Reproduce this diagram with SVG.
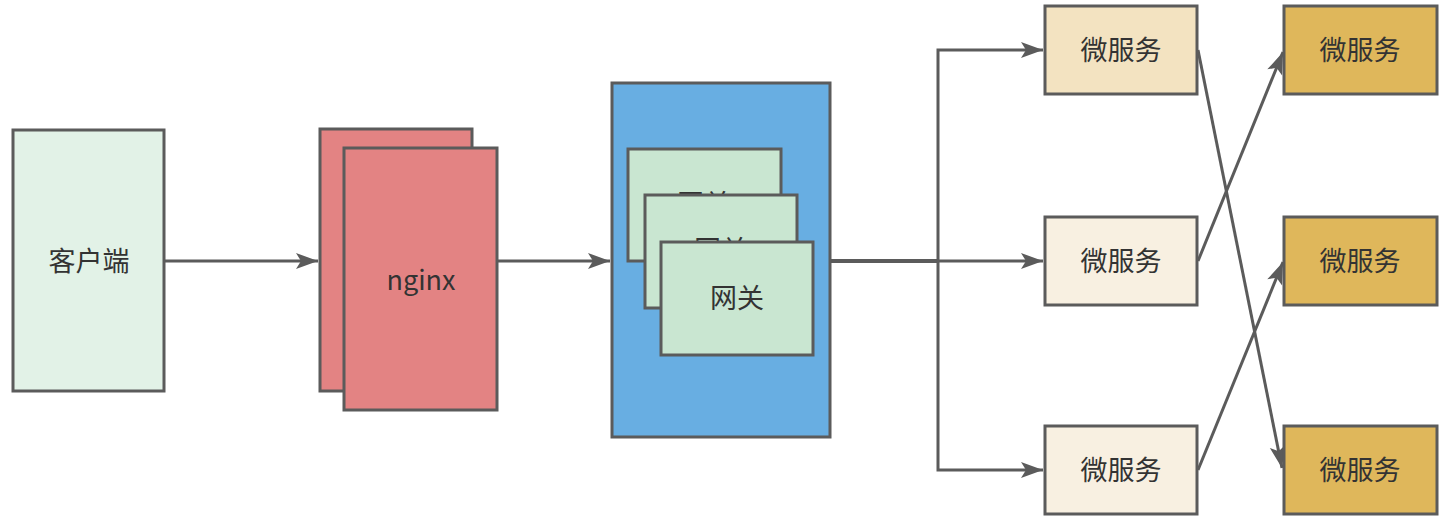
<svg xmlns="http://www.w3.org/2000/svg" width="1452" height="520" viewBox="0 0 1452 520">
<defs>
<style>
.box{stroke:#5b5b5b;stroke-width:3}
.lbl{font-family:"Noto Sans CJK SC","Noto Sans",sans-serif;font-size:27px;fill:#333;text-anchor:middle;dominant-baseline:central}
.edge{fill:none;stroke:#5b5b5b;stroke-width:3}
</style>
<marker id="arr" markerUnits="userSpaceOnUse" markerWidth="24" markerHeight="18" refX="22" refY="8" orient="auto" overflow="visible">
<path d="M0,0 L22,8 L0,16 L5,8 z" fill="#5b5b5b"/>
</marker>
</defs>
<rect width="1452" height="520" fill="#ffffff"/>
<g id="connectors">
<path class="edge" d="M165,261 L318,261" marker-end="url(#arr)"/>
<path class="edge" d="M497,261 L610,261" marker-end="url(#arr)"/>
<path class="edge" d="M830,261 L938,261" style="stroke-width:4"/>
<path class="edge" d="M938,261 L938,50 L1043,50" marker-end="url(#arr)"/>
<path class="edge" d="M938,261 L1043,261" marker-end="url(#arr)"/>
<path class="edge" d="M938,261 L938,470 L1043,470" marker-end="url(#arr)"/>
<path class="edge" d="M1198,50 L1282,468" marker-end="url(#arr)"/>
<path class="edge" d="M1198,261 L1283,52" marker-end="url(#arr)"/>
<path class="edge" d="M1198,470 L1283,262" marker-end="url(#arr)"/>
</g>
<g id="client">
<rect class="box" x="13" y="130" width="151" height="261" fill="#e2f2e7"/>
<text class="lbl" x="89" y="259">客户端</text>
</g>
<g id="nginx">
<rect class="box" x="320" y="129" width="152" height="262" fill="#e38383"/>
<rect class="box" x="344" y="148" width="153" height="262" fill="#e38383"/>
<text class="lbl" x="421" y="278">nginx</text>
</g>
<g id="gateway">
<rect class="box" x="612" y="83" width="218" height="354" fill="#68aee2"/>
<rect class="box" x="628" y="149" width="153" height="112" fill="#c9e6d1"/>
<text class="lbl" x="704" y="202">网关</text>
<rect class="box" x="645" y="195" width="152" height="113" fill="#c9e6d1"/>
<text class="lbl" x="721" y="248">网关</text>
<rect class="box" x="661" y="242" width="152" height="113" fill="#c9e6d1"/>
<text class="lbl" x="737" y="296">网关</text>
</g>
<g id="ms1">
<rect class="box" x="1045" y="6" width="152" height="88" fill="#f3e3c1"/>
<text class="lbl" x="1121" y="48">微服务</text>
</g>
<g id="ms2">
<rect class="box" x="1045" y="217" width="152" height="88" fill="#f8f0e1"/>
<text class="lbl" x="1121" y="259">微服务</text>
</g>
<g id="ms3">
<rect class="box" x="1045" y="426" width="152" height="88" fill="#f8f0e1"/>
<text class="lbl" x="1121" y="468">微服务</text>
</g>
<g id="ms4">
<rect class="box" x="1284" y="6" width="153" height="88" fill="#dfb75b"/>
<text class="lbl" x="1360" y="48">微服务</text>
</g>
<g id="ms5">
<rect class="box" x="1284" y="217" width="153" height="88" fill="#dfb75b"/>
<text class="lbl" x="1360" y="259">微服务</text>
</g>
<g id="ms6">
<rect class="box" x="1284" y="426" width="153" height="88" fill="#dfb75b"/>
<text class="lbl" x="1360" y="468">微服务</text>
</g>
</svg>
